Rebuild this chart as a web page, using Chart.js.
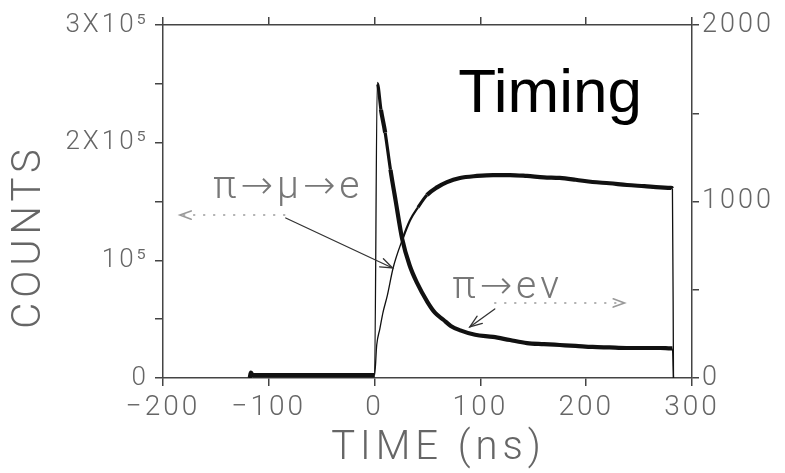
<!DOCTYPE html>
<html><head><meta charset="utf-8">
<script src="https://cdn.jsdelivr.net/npm/chart.js@4/dist/chart.umd.min.js"></script>
<style>html,body{margin:0;padding:0;background:#fff}</style>
</head><body>
<canvas id="c" width="785" height="473"></canvas>
<script>
// ---- data ----
const timeMuE   = [-118, -117, -115, -100, -80, -60, -40, -20, -5, 0, 2, 5, 8, 12, 17.5, 26, 33.5, 41, 49.5, 59, 68.4, 80.7, 96.8, 112, 128, 144, 160, 175, 190, 206, 222, 238.6, 255, 270, 280, 281.5, 282.5];
const countsMuE = [0, 4500, 2500, 2500, 2500, 2500, 2500, 2500, 2500, 2500, 28000, 42000, 56000, 70000, 93500, 117000, 134000, 145000, 155500, 162000, 166500, 170000, 171700, 172500, 172500, 171700, 170500, 170000, 168500, 166600, 165500, 164000, 163000, 162000, 161500, 161000, 0];
const timeENu   = [-118, -117, -115, -100, -80, -60, -40, -20, -5, 0, 2.5, 6, 10, 15, 20, 26, 33, 40, 50, 57, 65, 72, 81, 95, 112, 128, 144, 160, 175, 190, 206, 222, 238, 255, 270, 280, 281.5, 282.5];
const countsENu = [0, 30, 16, 16, 16, 16, 16, 16, 16, 16, 1670, 1520, 1390, 1180, 1000, 790, 640, 540, 430, 370, 330, 295, 270, 245, 233, 215, 198, 192, 187, 182, 176, 173, 170, 170, 170, 168, 168, 0];
const xTickValues = [-200, -100, 0, 100, 200, 300];
const leftTickLabels  = {0: '0', 100000: '10⁵', 200000: '2X10⁵', 300000: '3X10⁵'};
const rightTickLabels = {0: '0', 1000: '1000', 2000: '2000'};
const seriesNames = ['π→μ→e', 'π→eν'];
const titleText = 'Timing';
const xTitle = 'TIME (ns)';
const yTitle = 'COUNTS';

// ---- styling ----
const AX = '#444', TXT = '#666';
const FAM = "Roboto, 'DejaVu Sans', sans-serif";

function toXY(ts, vs){ return ts.map((t,i)=>({x:t, y:vs[i]})); }
function segWidth(th){
  return c => {
    const dx = Math.abs(c.p1.x - c.p0.x), dy = Math.abs(c.p1.y - c.p0.y);
    const s = dy / Math.max(dx, 0.01);
    if (s > th) return 1.3;
    if (s > th * 0.6) return 2.2;
    if (s > th * 0.35) return 3.2;
    return 4.2;
  };
}

// annotation anchors in data units (x: time, y: on the named axis)
const notes = {
  timing: {x: 79, y: 226000, axis: 'y'},
  mue:    {x: -152.7, y: 153000, axis: 'y'},
  mueDot: {x1: -85, x2: -184, y: 138500, axis: 'y'},
  mueArr: {x1: -84, y1: 136000, x2: 17, y2: 93500, axis: 'y'},
  enu:    {x: 73.3, y: 453, axis: 'y2'},
  enuDot: {x1: 113.6, x2: 236.2, y: 425, axis: 'y2'},
  enuArr: {x1: 113.6, y1: 391, x2: 90, y2: 289, axis: 'y2'}
};

function arrowHead(ctx, x1, y1, x2, y2, len, ang){
  const a = Math.atan2(y2 - y1, x2 - x1);
  ctx.beginPath();
  ctx.moveTo(x2 - len*Math.cos(a - ang), y2 - len*Math.sin(a - ang));
  ctx.lineTo(x2, y2);
  ctx.lineTo(x2 - len*Math.cos(a + ang), y2 - len*Math.sin(a + ang));
  ctx.stroke();
}

const deco = {
  id: 'deco',
  beforeDraw(chart){ chart.ctx.letterSpacing = '3px'; },
  afterDraw(chart){
    const {ctx, chartArea: a, scales} = chart;
    const X = scales.x;
    ctx.save();
    // axis titles
    ctx.fillStyle = TXT;
    ctx.font = "300 40px " + FAM;
    ctx.letterSpacing = '5px';
    ctx.textAlign = 'center'; ctx.textBaseline = 'middle';
    ctx.save();
    ctx.translate(a.left - 133, (a.top + a.bottom)/2 + 35);
    ctx.rotate(-Math.PI/2);
    ctx.fillText(yTitle, 0, 0);
    ctx.restore();
    ctx.fillText(xTitle, (a.left + a.right)/2 + 11, a.bottom + 71);

    // Timing
    ctx.letterSpacing = '0px';
    ctx.fillStyle = '#000';
    ctx.font = "62px 'Liberation Sans', Arial, sans-serif";
    ctx.textAlign = 'left'; ctx.textBaseline = 'alphabetic';
    ctx.fillText(titleText, X.getPixelForValue(notes.timing.x), scales.y.getPixelForValue(notes.timing.y));

    // series labels
    ctx.fillStyle = '#777';
    ctx.font = "300 39px " + FAM;
    ctx.letterSpacing = '4px';
    ctx.fillText(seriesNames[0], X.getPixelForValue(notes.mue.x), scales[notes.mue.axis].getPixelForValue(notes.mue.y));
    ctx.fillText(seriesNames[1], X.getPixelForValue(notes.enu.x), scales[notes.enu.axis].getPixelForValue(notes.enu.y));

    // dotted leaders
    ctx.strokeStyle = '#999';
    ctx.lineWidth = 1.6;
    ctx.lineCap = 'round';
    for (const k of ['mueDot', 'enuDot']){
      const n = notes[k], S = scales[n.axis];
      const x1 = X.getPixelForValue(n.x1), x2 = X.getPixelForValue(n.x2), yy = S.getPixelForValue(n.y);
      ctx.setLineDash([1, 9]);
      ctx.beginPath(); ctx.moveTo(x1, yy); ctx.lineTo(x2, yy); ctx.stroke();
      ctx.setLineDash([]);
      arrowHead(ctx, x1, yy, x2, yy, 12, 0.35);
    }
    // solid arrows
    ctx.strokeStyle = '#333';
    ctx.lineWidth = 1.3;
    for (const k of ['mueArr', 'enuArr']){
      const n = notes[k], S = scales[n.axis];
      const x1 = X.getPixelForValue(n.x1), y1 = S.getPixelForValue(n.y1);
      const x2 = X.getPixelForValue(n.x2), y2 = S.getPixelForValue(n.y2);
      ctx.beginPath(); ctx.moveTo(x1, y1); ctx.lineTo(x2, y2); ctx.stroke();
      arrowHead(ctx, x1, y1, x2, y2, 13, 0.35);
    }
    ctx.restore();
  }
};

const tickFont = {family: FAM, size: 28, weight: 300};
const gridOpts = {drawOnChartArea: false, drawTicks: true, tickLength: 8, color: AX, lineWidth: 1.5};
const borderOpts = {color: AX, width: 1.5};

new Chart(document.getElementById('c'), {
  type: 'line',
  data: {
    datasets: [
      {label: seriesNames[0], data: toXY(timeMuE, countsMuE), yAxisID: 'y',
       borderColor: '#111', pointRadius: 0, cubicInterpolationMode: 'monotone',
       borderWidth: 4.2, segment: {borderWidth: segWidth(2.6)}},
      {label: seriesNames[1], data: toXY(timeENu, countsENu), yAxisID: 'y2',
       borderColor: '#111', pointRadius: 0, cubicInterpolationMode: 'monotone',
       borderWidth: 4.2, segment: {borderWidth: segWidth(20)}}
    ]
  },
  options: {
    responsive: false, animation: false,
    layout: {padding: {top: 25, left: 0, right: 0, bottom: 0}},
    plugins: {legend: {display: false}, tooltip: {enabled: false}},
    scales: {
      x: {type: 'linear', position: 'bottom', min: -200, max: 300,
          afterBuildTicks: s => { s.ticks = xTickValues.map(v => ({value: v})); },
          afterFit: s => { s.height = 95; },
          grid: gridOpts, border: borderOpts,
          ticks: {color: TXT, font: tickFont, padding: 5, maxRotation: 0,
                  callback: v => v < 0 ? '−' + Math.abs(v) : String(v)}},
      x2: {type: 'linear', position: 'top', min: -200, max: 300,
          afterBuildTicks: s => { s.ticks = xTickValues.map(v => ({value: v})); },
          afterFit: s => { s.height = 0; },
          grid: gridOpts, border: borderOpts,
          ticks: {display: false}},
      y: {type: 'linear', position: 'left', min: 0, max: 300000,
          afterFit: s => { s.width = 163; },
          grid: gridOpts, border: borderOpts,
          ticks: {stepSize: 50000, color: TXT, font: {family: FAM, size: 26, weight: 300}, padding: 6,
                  callback: v => leftTickLabels[v] ?? ''}},
      y2: {type: 'linear', position: 'right', min: 0, max: 2000,
          afterFit: s => { s.width = 93; },
          grid: Object.assign({}, gridOpts, {tickLength: 7}), border: borderOpts,
          ticks: {stepSize: 500, color: TXT, font: {family: FAM, size: 27, weight: 300}, padding: 3,
                  callback: v => rightTickLabels[v] ?? ''}}
    }
  },
  plugins: [deco]
});
</script>
</body></html>
